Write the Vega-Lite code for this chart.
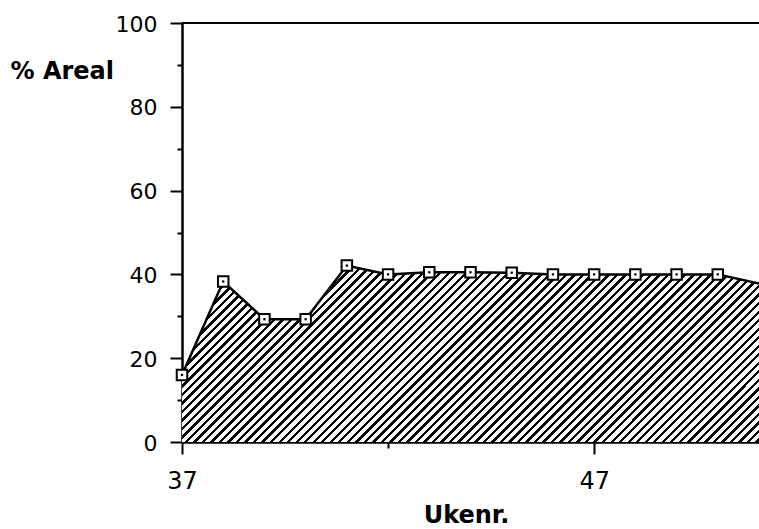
{
  "$schema": "https://vega.github.io/schema/vega-lite/v6.json",
  "width": 577,
  "height": 419,
  "autosize": {"type": "none"},
  "padding": {"left": 182, "top": 23, "right": 0, "bottom": 87},
  "background": "white",
  "config": {"view": {"stroke": null}},
  "layer": [
    {
      "data": {
        "values": [
          {"week": 37, "pct": 16.0},
          {"week": 38, "pct": 38.3},
          {"week": 39, "pct": 29.3},
          {"week": 40, "pct": 29.3},
          {"week": 41, "pct": 42.1},
          {"week": 42, "pct": 40.0},
          {"week": 43, "pct": 40.5},
          {"week": 44, "pct": 40.5},
          {"week": 45, "pct": 40.4},
          {"week": 46, "pct": 40.0},
          {"week": 47, "pct": 40.0},
          {"week": 48, "pct": 40.0},
          {"week": 49, "pct": 40.0},
          {"week": 50, "pct": 40.0},
          {"week": 51, "pct": 37.8}
        ]
      },
      "encoding": {
        "x": {
          "field": "week",
          "type": "quantitative",
          "scale": {"domain": [37, 51], "nice": false, "zero": false},
          "axis": {
            "values": [37, 42, 47],
            "labelExpr": "datum.value == 42 ? '' : datum.label",
            "tickSize": {"condition": {"test": "datum.value == 42", "value": 6}, "value": 12},
            "tickColor": "black",
            "tickWidth": 2,
            "domainColor": "black",
            "domainWidth": 2.5,
            "grid": false,
            "labelFont": "DejaVu Sans",
            "labelFontSize": 24,
            "labelColor": "black",
            "labelBaseline": "alphabetic",
            "labelPadding": 34,
            "labelFlush": false,
            "labelOverlap": false,
            "title": "Ukenr.",
            "titleFont": "DejaVu Sans",
            "titleFontSize": 24,
            "titleFontWeight": "bold",
            "titleColor": "black",
            "titleBaseline": "alphabetic",
            "titleAnchor": null,
            "titleX": 284,
            "titleY": 80
          }
        },
        "y": {
          "field": "pct",
          "type": "quantitative",
          "scale": {"domain": [0, 100], "nice": false},
          "axis": {
            "values": [0, 10, 20, 30, 40, 50, 60, 70, 80, 90, 100],
            "labelExpr": "datum.value % 20 == 0 ? datum.label : ''",
            "tickSize": {"condition": {"test": "datum.value % 20 == 0", "value": 12}, "value": 5},
            "tickColor": "black",
            "tickWidth": 2,
            "domainColor": "black",
            "domainWidth": 2.5,
            "grid": false,
            "labelFont": "DejaVu Sans",
            "labelFontSize": 22,
            "labelColor": "black",
            "labelBaseline": "alphabetic",
            "labelOffset": 8,
            "labelPadding": 13,
            "labelOverlap": false,
            "title": "% Areal",
            "titleFont": "DejaVu Sans",
            "titleFontSize": 24,
            "titleFontWeight": "bold",
            "titleColor": "black",
            "titleAngle": 0,
            "titleAlign": "left",
            "titleBaseline": "alphabetic",
            "titleAnchor": null,
            "titleX": -172,
            "titleY": 55
          }
        }
      },
      "layer": [
        {
          "mark": {
            "type": "area",
            "stroke": null,
            "opacity": 1,
            "fill": {
              "gradient": "linear",
              "x1": 0, "y1": 0, "x2": 1.194, "y2": 0.365,
              "stops": [
                {"offset": 0, "color": "#000"}, {"offset": 0.0045, "color": "#000"}, {"offset": 0.0045, "color": "#fff"},
                {"offset": 0.0113, "color": "#fff"}, {"offset": 0.0113, "color": "#000"}, {"offset": 0.0158, "color": "#000"}, {"offset": 0.0158, "color": "#fff"},
                {"offset": 0.0226, "color": "#fff"}, {"offset": 0.0226, "color": "#000"}, {"offset": 0.0271, "color": "#000"}, {"offset": 0.0271, "color": "#fff"},
                {"offset": 0.0339, "color": "#fff"}, {"offset": 0.0339, "color": "#000"}, {"offset": 0.0384, "color": "#000"}, {"offset": 0.0384, "color": "#fff"},
                {"offset": 0.0452, "color": "#fff"}, {"offset": 0.0452, "color": "#000"}, {"offset": 0.0497, "color": "#000"}, {"offset": 0.0497, "color": "#fff"},
                {"offset": 0.0565, "color": "#fff"}, {"offset": 0.0565, "color": "#000"}, {"offset": 0.061, "color": "#000"}, {"offset": 0.061, "color": "#fff"},
                {"offset": 0.0678, "color": "#fff"}, {"offset": 0.0678, "color": "#000"}, {"offset": 0.0723, "color": "#000"}, {"offset": 0.0723, "color": "#fff"},
                {"offset": 0.0791, "color": "#fff"}, {"offset": 0.0791, "color": "#000"}, {"offset": 0.0836, "color": "#000"}, {"offset": 0.0836, "color": "#fff"},
                {"offset": 0.0904, "color": "#fff"}, {"offset": 0.0904, "color": "#000"}, {"offset": 0.0949, "color": "#000"}, {"offset": 0.0949, "color": "#fff"},
                {"offset": 0.1017, "color": "#fff"}, {"offset": 0.1017, "color": "#000"}, {"offset": 0.1062, "color": "#000"}, {"offset": 0.1062, "color": "#fff"},
                {"offset": 0.113, "color": "#fff"}, {"offset": 0.113, "color": "#000"}, {"offset": 0.1175, "color": "#000"}, {"offset": 0.1175, "color": "#fff"},
                {"offset": 0.1243, "color": "#fff"}, {"offset": 0.1243, "color": "#000"}, {"offset": 0.1288, "color": "#000"}, {"offset": 0.1288, "color": "#fff"},
                {"offset": 0.1356, "color": "#fff"}, {"offset": 0.1356, "color": "#000"}, {"offset": 0.1401, "color": "#000"}, {"offset": 0.1401, "color": "#fff"},
                {"offset": 0.1469, "color": "#fff"}, {"offset": 0.1469, "color": "#000"}, {"offset": 0.1514, "color": "#000"}, {"offset": 0.1514, "color": "#fff"},
                {"offset": 0.1582, "color": "#fff"}, {"offset": 0.1582, "color": "#000"}, {"offset": 0.1627, "color": "#000"}, {"offset": 0.1627, "color": "#fff"},
                {"offset": 0.1695, "color": "#fff"}, {"offset": 0.1695, "color": "#000"}, {"offset": 0.174, "color": "#000"}, {"offset": 0.174, "color": "#fff"},
                {"offset": 0.1808, "color": "#fff"}, {"offset": 0.1808, "color": "#000"}, {"offset": 0.1853, "color": "#000"}, {"offset": 0.1853, "color": "#fff"},
                {"offset": 0.1921, "color": "#fff"}, {"offset": 0.1921, "color": "#000"}, {"offset": 0.1966, "color": "#000"}, {"offset": 0.1966, "color": "#fff"},
                {"offset": 0.2034, "color": "#fff"}, {"offset": 0.2034, "color": "#000"}, {"offset": 0.2079, "color": "#000"}, {"offset": 0.2079, "color": "#fff"},
                {"offset": 0.2147, "color": "#fff"}, {"offset": 0.2147, "color": "#000"}, {"offset": 0.2192, "color": "#000"}, {"offset": 0.2192, "color": "#fff"},
                {"offset": 0.226, "color": "#fff"}, {"offset": 0.226, "color": "#000"}, {"offset": 0.2305, "color": "#000"}, {"offset": 0.2305, "color": "#fff"},
                {"offset": 0.2373, "color": "#fff"}, {"offset": 0.2373, "color": "#000"}, {"offset": 0.2418, "color": "#000"}, {"offset": 0.2418, "color": "#fff"},
                {"offset": 0.2486, "color": "#fff"}, {"offset": 0.2486, "color": "#000"}, {"offset": 0.2531, "color": "#000"}, {"offset": 0.2531, "color": "#fff"},
                {"offset": 0.2599, "color": "#fff"}, {"offset": 0.2599, "color": "#000"}, {"offset": 0.2644, "color": "#000"}, {"offset": 0.2644, "color": "#fff"},
                {"offset": 0.2712, "color": "#fff"}, {"offset": 0.2712, "color": "#000"}, {"offset": 0.2757, "color": "#000"}, {"offset": 0.2757, "color": "#fff"},
                {"offset": 0.2825, "color": "#fff"}, {"offset": 0.2825, "color": "#000"}, {"offset": 0.287, "color": "#000"}, {"offset": 0.287, "color": "#fff"},
                {"offset": 0.2938, "color": "#fff"}, {"offset": 0.2938, "color": "#000"}, {"offset": 0.2983, "color": "#000"}, {"offset": 0.2983, "color": "#fff"},
                {"offset": 0.3051, "color": "#fff"}, {"offset": 0.3051, "color": "#000"}, {"offset": 0.3096, "color": "#000"}, {"offset": 0.3096, "color": "#fff"},
                {"offset": 0.3164, "color": "#fff"}, {"offset": 0.3164, "color": "#000"}, {"offset": 0.3209, "color": "#000"}, {"offset": 0.3209, "color": "#fff"},
                {"offset": 0.3277, "color": "#fff"}, {"offset": 0.3277, "color": "#000"}, {"offset": 0.3322, "color": "#000"}, {"offset": 0.3322, "color": "#fff"},
                {"offset": 0.339, "color": "#fff"}, {"offset": 0.339, "color": "#000"}, {"offset": 0.3435, "color": "#000"}, {"offset": 0.3435, "color": "#fff"},
                {"offset": 0.3503, "color": "#fff"}, {"offset": 0.3503, "color": "#000"}, {"offset": 0.3548, "color": "#000"}, {"offset": 0.3548, "color": "#fff"},
                {"offset": 0.3616, "color": "#fff"}, {"offset": 0.3616, "color": "#000"}, {"offset": 0.3661, "color": "#000"}, {"offset": 0.3661, "color": "#fff"},
                {"offset": 0.3729, "color": "#fff"}, {"offset": 0.3729, "color": "#000"}, {"offset": 0.3774, "color": "#000"}, {"offset": 0.3774, "color": "#fff"},
                {"offset": 0.3842, "color": "#fff"}, {"offset": 0.3842, "color": "#000"}, {"offset": 0.3887, "color": "#000"}, {"offset": 0.3887, "color": "#fff"},
                {"offset": 0.3955, "color": "#fff"}, {"offset": 0.3955, "color": "#000"}, {"offset": 0.4, "color": "#000"}, {"offset": 0.4, "color": "#fff"},
                {"offset": 0.4068, "color": "#fff"}, {"offset": 0.4068, "color": "#000"}, {"offset": 0.4113, "color": "#000"}, {"offset": 0.4113, "color": "#fff"},
                {"offset": 0.4181, "color": "#fff"}, {"offset": 0.4181, "color": "#000"}, {"offset": 0.4226, "color": "#000"}, {"offset": 0.4226, "color": "#fff"},
                {"offset": 0.4294, "color": "#fff"}, {"offset": 0.4294, "color": "#000"}, {"offset": 0.4339, "color": "#000"}, {"offset": 0.4339, "color": "#fff"},
                {"offset": 0.4407, "color": "#fff"}, {"offset": 0.4407, "color": "#000"}, {"offset": 0.4452, "color": "#000"}, {"offset": 0.4452, "color": "#fff"},
                {"offset": 0.452, "color": "#fff"}, {"offset": 0.452, "color": "#000"}, {"offset": 0.4565, "color": "#000"}, {"offset": 0.4565, "color": "#fff"},
                {"offset": 0.4633, "color": "#fff"}, {"offset": 0.4633, "color": "#000"}, {"offset": 0.4678, "color": "#000"}, {"offset": 0.4678, "color": "#fff"},
                {"offset": 0.4746, "color": "#fff"}, {"offset": 0.4746, "color": "#000"}, {"offset": 0.4791, "color": "#000"}, {"offset": 0.4791, "color": "#fff"},
                {"offset": 0.4859, "color": "#fff"}, {"offset": 0.4859, "color": "#000"}, {"offset": 0.4904, "color": "#000"}, {"offset": 0.4904, "color": "#fff"},
                {"offset": 0.4972, "color": "#fff"}, {"offset": 0.4972, "color": "#000"}, {"offset": 0.5017, "color": "#000"}, {"offset": 0.5017, "color": "#fff"},
                {"offset": 0.5085, "color": "#fff"}, {"offset": 0.5085, "color": "#000"}, {"offset": 0.513, "color": "#000"}, {"offset": 0.513, "color": "#fff"},
                {"offset": 0.5198, "color": "#fff"}, {"offset": 0.5198, "color": "#000"}, {"offset": 0.5243, "color": "#000"}, {"offset": 0.5243, "color": "#fff"},
                {"offset": 0.5311, "color": "#fff"}, {"offset": 0.5311, "color": "#000"}, {"offset": 0.5356, "color": "#000"}, {"offset": 0.5356, "color": "#fff"},
                {"offset": 0.5424, "color": "#fff"}, {"offset": 0.5424, "color": "#000"}, {"offset": 0.5469, "color": "#000"}, {"offset": 0.5469, "color": "#fff"},
                {"offset": 0.5537, "color": "#fff"}, {"offset": 0.5537, "color": "#000"}, {"offset": 0.5582, "color": "#000"}, {"offset": 0.5582, "color": "#fff"},
                {"offset": 0.565, "color": "#fff"}, {"offset": 0.565, "color": "#000"}, {"offset": 0.5695, "color": "#000"}, {"offset": 0.5695, "color": "#fff"},
                {"offset": 0.5763, "color": "#fff"}, {"offset": 0.5763, "color": "#000"}, {"offset": 0.5808, "color": "#000"}, {"offset": 0.5808, "color": "#fff"},
                {"offset": 0.5876, "color": "#fff"}, {"offset": 0.5876, "color": "#000"}, {"offset": 0.5921, "color": "#000"}, {"offset": 0.5921, "color": "#fff"},
                {"offset": 0.5989, "color": "#fff"}, {"offset": 0.5989, "color": "#000"}, {"offset": 0.6034, "color": "#000"}, {"offset": 0.6034, "color": "#fff"},
                {"offset": 0.6102, "color": "#fff"}, {"offset": 0.6102, "color": "#000"}, {"offset": 0.6147, "color": "#000"}, {"offset": 0.6147, "color": "#fff"},
                {"offset": 0.6215, "color": "#fff"}, {"offset": 0.6215, "color": "#000"}, {"offset": 0.626, "color": "#000"}, {"offset": 0.626, "color": "#fff"},
                {"offset": 0.6328, "color": "#fff"}, {"offset": 0.6328, "color": "#000"}, {"offset": 0.6373, "color": "#000"}, {"offset": 0.6373, "color": "#fff"},
                {"offset": 0.6441, "color": "#fff"}, {"offset": 0.6441, "color": "#000"}, {"offset": 0.6486, "color": "#000"}, {"offset": 0.6486, "color": "#fff"},
                {"offset": 0.6554, "color": "#fff"}, {"offset": 0.6554, "color": "#000"}, {"offset": 0.6599, "color": "#000"}, {"offset": 0.6599, "color": "#fff"},
                {"offset": 0.6667, "color": "#fff"}, {"offset": 0.6667, "color": "#000"}, {"offset": 0.6712, "color": "#000"}, {"offset": 0.6712, "color": "#fff"},
                {"offset": 0.678, "color": "#fff"}, {"offset": 0.678, "color": "#000"}, {"offset": 0.6825, "color": "#000"}, {"offset": 0.6825, "color": "#fff"},
                {"offset": 0.6893, "color": "#fff"}, {"offset": 0.6893, "color": "#000"}, {"offset": 0.6938, "color": "#000"}, {"offset": 0.6938, "color": "#fff"},
                {"offset": 0.7006, "color": "#fff"}, {"offset": 0.7006, "color": "#000"}, {"offset": 0.7051, "color": "#000"}, {"offset": 0.7051, "color": "#fff"},
                {"offset": 0.7119, "color": "#fff"}, {"offset": 0.7119, "color": "#000"}, {"offset": 0.7164, "color": "#000"}, {"offset": 0.7164, "color": "#fff"},
                {"offset": 0.7232, "color": "#fff"}, {"offset": 0.7232, "color": "#000"}, {"offset": 0.7277, "color": "#000"}, {"offset": 0.7277, "color": "#fff"},
                {"offset": 0.7345, "color": "#fff"}, {"offset": 0.7345, "color": "#000"}, {"offset": 0.739, "color": "#000"}, {"offset": 0.739, "color": "#fff"},
                {"offset": 0.7458, "color": "#fff"}, {"offset": 0.7458, "color": "#000"}, {"offset": 0.7503, "color": "#000"}, {"offset": 0.7503, "color": "#fff"},
                {"offset": 0.7571, "color": "#fff"}, {"offset": 0.7571, "color": "#000"}, {"offset": 0.7616, "color": "#000"}, {"offset": 0.7616, "color": "#fff"},
                {"offset": 0.7684, "color": "#fff"}, {"offset": 0.7684, "color": "#000"}, {"offset": 0.7729, "color": "#000"}, {"offset": 0.7729, "color": "#fff"},
                {"offset": 0.7797, "color": "#fff"}, {"offset": 0.7797, "color": "#000"}, {"offset": 0.7842, "color": "#000"}, {"offset": 0.7842, "color": "#fff"},
                {"offset": 0.791, "color": "#fff"}, {"offset": 0.791, "color": "#000"}, {"offset": 0.7955, "color": "#000"}, {"offset": 0.7955, "color": "#fff"},
                {"offset": 0.8023, "color": "#fff"}, {"offset": 0.8023, "color": "#000"}, {"offset": 0.8068, "color": "#000"}, {"offset": 0.8068, "color": "#fff"},
                {"offset": 0.8136, "color": "#fff"}, {"offset": 0.8136, "color": "#000"}, {"offset": 0.8181, "color": "#000"}, {"offset": 0.8181, "color": "#fff"},
                {"offset": 0.8249, "color": "#fff"}, {"offset": 0.8249, "color": "#000"}, {"offset": 0.8294, "color": "#000"}, {"offset": 0.8294, "color": "#fff"},
                {"offset": 0.8362, "color": "#fff"}, {"offset": 0.8362, "color": "#000"}, {"offset": 0.8407, "color": "#000"}, {"offset": 0.8407, "color": "#fff"},
                {"offset": 0.8475, "color": "#fff"}, {"offset": 0.8475, "color": "#000"}, {"offset": 0.852, "color": "#000"}, {"offset": 0.852, "color": "#fff"},
                {"offset": 0.8588, "color": "#fff"}, {"offset": 0.8588, "color": "#000"}, {"offset": 0.8633, "color": "#000"}, {"offset": 0.8633, "color": "#fff"},
                {"offset": 0.8701, "color": "#fff"}, {"offset": 0.8701, "color": "#000"}, {"offset": 0.8746, "color": "#000"}, {"offset": 0.8746, "color": "#fff"},
                {"offset": 0.8814, "color": "#fff"}, {"offset": 0.8814, "color": "#000"}, {"offset": 0.8859, "color": "#000"}, {"offset": 0.8859, "color": "#fff"},
                {"offset": 0.8927, "color": "#fff"}, {"offset": 0.8927, "color": "#000"}, {"offset": 0.8972, "color": "#000"}, {"offset": 0.8972, "color": "#fff"},
                {"offset": 0.904, "color": "#fff"}, {"offset": 0.904, "color": "#000"}, {"offset": 0.9085, "color": "#000"}, {"offset": 0.9085, "color": "#fff"},
                {"offset": 0.9153, "color": "#fff"}, {"offset": 0.9153, "color": "#000"}, {"offset": 0.9198, "color": "#000"}, {"offset": 0.9198, "color": "#fff"},
                {"offset": 0.9266, "color": "#fff"}, {"offset": 0.9266, "color": "#000"}, {"offset": 0.9311, "color": "#000"}, {"offset": 0.9311, "color": "#fff"},
                {"offset": 0.9379, "color": "#fff"}, {"offset": 0.9379, "color": "#000"}, {"offset": 0.9424, "color": "#000"}, {"offset": 0.9424, "color": "#fff"},
                {"offset": 0.9492, "color": "#fff"}, {"offset": 0.9492, "color": "#000"}, {"offset": 0.9537, "color": "#000"}, {"offset": 0.9537, "color": "#fff"},
                {"offset": 0.9605, "color": "#fff"}, {"offset": 0.9605, "color": "#000"}, {"offset": 0.965, "color": "#000"}, {"offset": 0.965, "color": "#fff"},
                {"offset": 0.9718, "color": "#fff"}, {"offset": 0.9718, "color": "#000"}, {"offset": 0.9763, "color": "#000"}, {"offset": 0.9763, "color": "#fff"},
                {"offset": 0.9831, "color": "#fff"}, {"offset": 0.9831, "color": "#000"}, {"offset": 0.9876, "color": "#000"}, {"offset": 0.9876, "color": "#fff"},
                {"offset": 0.9944, "color": "#fff"}, {"offset": 0.9944, "color": "#000"}, {"offset": 0.9989, "color": "#000"}, {"offset": 0.9989, "color": "#fff"},
                {"offset": 1, "color": "#fff"}
              ]
            }
          }
        },
        {
          "mark": {"type": "line", "color": "black", "strokeWidth": 2.5}
        },
        {
          "transform": [{"filter": "datum.week <= 50"}],
          "mark": {"type": "point", "shape": "square", "size": 110, "filled": true, "fill": "white", "stroke": "black", "strokeWidth": 2, "opacity": 1}
        },
        {
          "transform": [{"filter": "datum.week <= 50"}],
          "mark": {"type": "point", "shape": "square", "size": 5, "filled": true, "color": "black", "opacity": 1}
        },
        {
          "data": {"values": [{"pct": 100}]},
          "mark": {"type": "rule", "color": "black", "strokeWidth": 2},
          "encoding": {"x": {"value": 0}, "x2": {"value": 577}}
        }
      ]
    }
  ]
}
